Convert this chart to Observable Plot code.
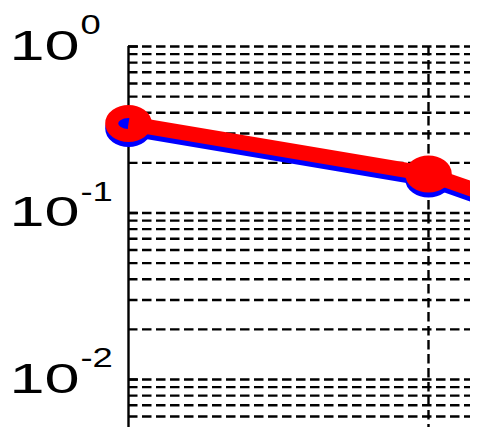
<!DOCTYPE html>
<html><head><meta charset="utf-8">
<script src="https://cdn.jsdelivr.net/npm/d3@7"></script>
<script src="https://cdn.jsdelivr.net/npm/@observablehq/plot@0.6"></script>
<style>html,body{margin:0;padding:0;overflow:hidden;background:#fff}</style>
</head><body><div id="chart"></div>
<script>
// data
const xs = [1, 2, 3];
const redValues = [0.345, 0.1715, 0.0405];
const blueValues = [0.322, 0.160, 0.0378];
const decadeTicks = [1, 0.1, 0.01];
const tickBase = ["10", "10", "10"];
const tickExponents = ["0", "-1", "-2"];
const verticalGrid = [2];

const yDomain = [0.00515, 1];
const xDomain = [1, 2.14];

const minorGrid = [];
for (let e = -3; e <= 0; e++) for (let k = 1; k <= 9; k++) {
  const v = k * Math.pow(10, e);
  if (v >= yDomain[0] && v <= yDomain[1] * 1.0001) minorGrid.push(v);
}

const redRows = xs.map((x, i) => ({x, y: redValues[i]}));
const blueRows = xs.map((x, i) => ({x, y: blueValues[i]}));

const ellipse = {
  draw(ctx, size) {
    const r = Math.sqrt(size / Math.PI);
    const a = r * 1.4, b = r, k = 0.5523;
    ctx.moveTo(a, 0);
    ctx.bezierCurveTo(a, k * b, k * a, b, 0, b);
    ctx.bezierCurveTo(-k * a, b, -a, k * b, -a, 0);
    ctx.bezierCurveTo(-a, -k * b, -k * a, -b, 0, -b);
    ctx.bezierCurveTo(k * a, -b, a, -k * b, a, 0);
    ctx.closePath();
  }
};

const plot = Plot.plot({
  width: 482,
  height: 427,
  marginLeft: 128,
  marginRight: 12,
  marginTop: 46,
  marginBottom: 0,
  style: {fontFamily: "'Liberation Sans', Arial, sans-serif", background: "white"},
  x: {type: "linear", domain: xDomain, axis: null},
  y: {type: "log", domain: yDomain, axis: null},
  marks: [
    Plot.ruleY(minorGrid, {stroke: "black", strokeWidth: 2.4, strokeDasharray: "9.5,4.5"}),
    Plot.ruleX(verticalGrid, {stroke: "black", strokeWidth: 2.4, strokeDasharray: "9.5,4.5"}),
    Plot.ruleX([xDomain[0]], {stroke: "black", strokeWidth: 2.4}),
    Plot.axisY({ticks: decadeTicks, tickSize: -10, tickFormat: () => "", label: null, strokeWidth: 2.4, anchor: "left"}),
    Plot.line(blueRows, {x: "x", y: "y", stroke: "#0000ff", strokeWidth: 15, strokeLinecap: "butt", clip: true}),
    Plot.dot(blueRows, {x: "x", y: "y", r: 12, symbol: ellipse, fill: "#0000ff", stroke: "#0000ff", strokeWidth: 13}),
    Plot.line(redRows, {x: "x", y: "y", stroke: "#ff0000", strokeWidth: 15, strokeLinecap: "butt", clip: true}),
    Plot.dot(redRows, {x: "x", y: "y", r: 12, symbol: ellipse, fill: "none", stroke: "#ff0000", strokeWidth: 13}),
    Plot.text(decadeTicks, {y: d => d, text: (d, i) => tickBase[i], frameAnchor: "left", textAnchor: "start", dx: -119, fontSize: 42, fill: "black"}),
    Plot.text(decadeTicks, {y: d => d, text: (d, i) => tickExponents[i], frameAnchor: "left", textAnchor: "start", dx: -48, dy: -21, fontSize: 28, fill: "black"})
  ]
});
document.getElementById("chart").appendChild(plot);

const groups = plot.querySelectorAll('g[aria-label="text"]');
const factors = [1.5, 1.3];
groups.forEach((g, gi) => {
  g.querySelectorAll("text").forEach(t => {
    const len = t.getComputedTextLength();
    if (len > 0) {
      t.setAttribute("textLength", (len * factors[gi]).toFixed(2));
      t.setAttribute("lengthAdjust", "spacingAndGlyphs");
    }
  });
});
</script>
</body></html>
